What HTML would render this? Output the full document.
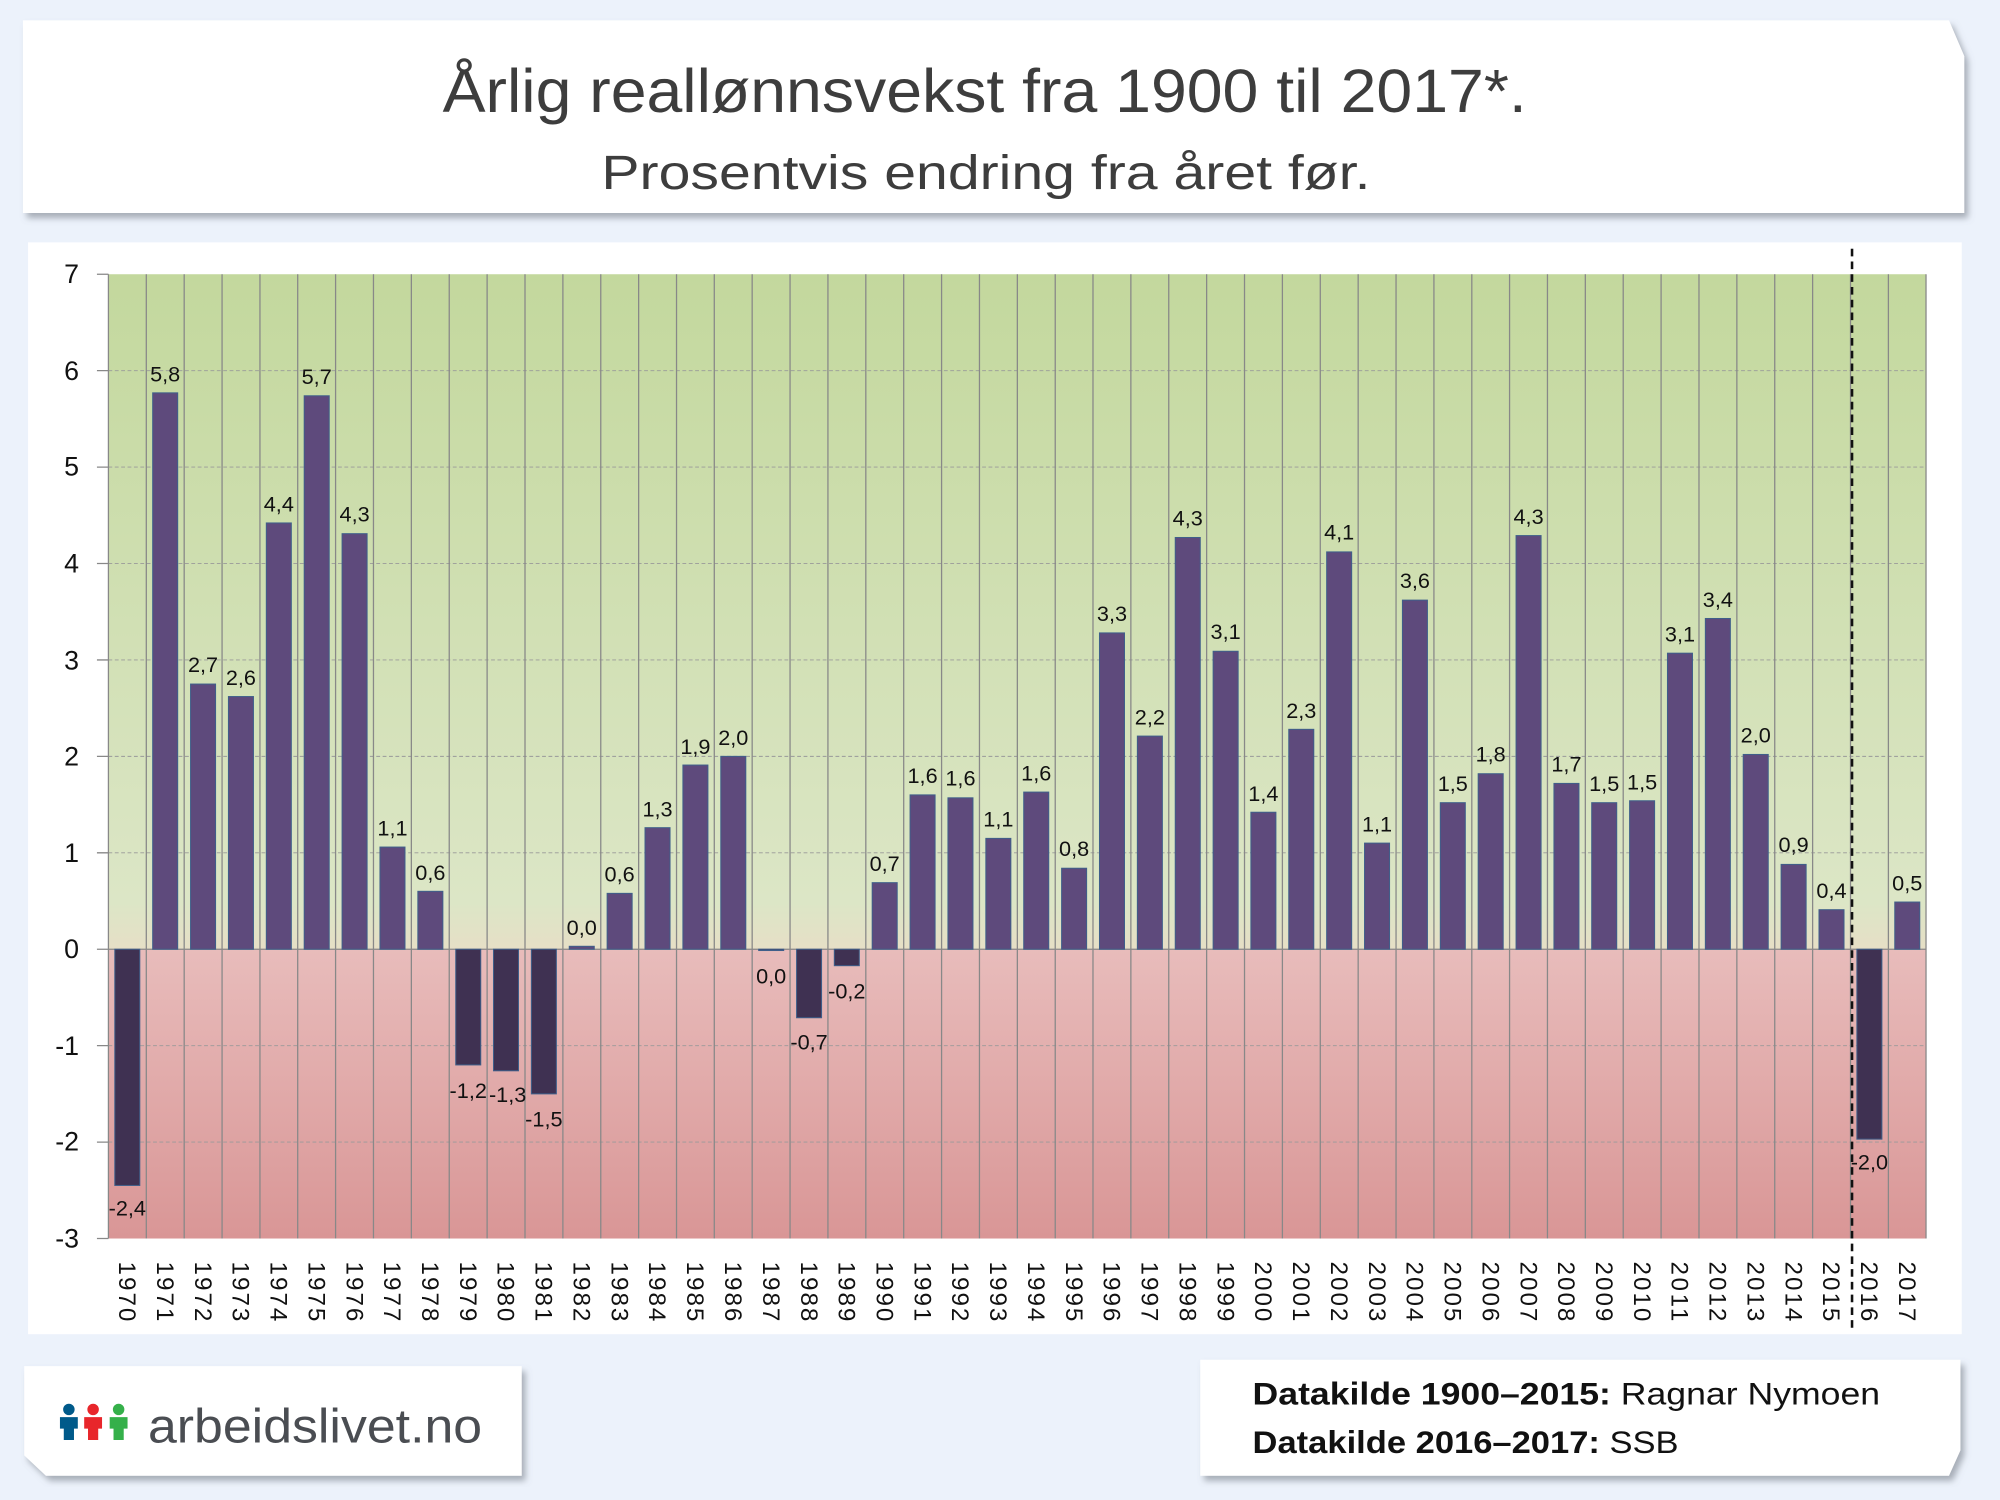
<!DOCTYPE html>
<html><head><meta charset="utf-8"><style>
html,body{margin:0;padding:0;background:#ecf2fb;}
svg{display:block;}
text{font-family:"Liberation Sans",sans-serif;}
</style></head><body>
<svg width="2000" height="1500" viewBox="0 0 1568 1176" xmlns="http://www.w3.org/2000/svg">
<defs>
<linearGradient id="gpos" x1="0" y1="0" x2="0" y2="1">
<stop offset="0" stop-color="#c3d89d"/><stop offset="0.93" stop-color="#dce6c6"/><stop offset="1" stop-color="#e6dfc6"/></linearGradient>
<linearGradient id="gneg" x1="0" y1="0" x2="0" y2="1">
<stop offset="0" stop-color="#e8bcbb"/><stop offset="1" stop-color="#d99696"/></linearGradient>
<filter id="sh" x="-5%" y="-5%" width="110%" height="115%"><feDropShadow dx="3" dy="4" stdDeviation="2.5" flood-color="#6e7480" flood-opacity="0.55"/></filter>
</defs>
<rect width="1568" height="1176" fill="#ecf2fb"/>
<path d="M18 16 H1528 L1540 44 V167 H18 Z" fill="#fff" filter="url(#sh)"/>
<text x="772" y="88" font-size="48" fill="#3d3d3d" text-anchor="middle" textLength="850" lengthAdjust="spacingAndGlyphs">Årlig reallønnsvekst fra 1900 til 2017*.</text>
<text x="773" y="148" font-size="38" fill="#3d3d3d" text-anchor="middle" textLength="603" lengthAdjust="spacingAndGlyphs">Prosentvis endring fra året før.</text>
<rect x="22" y="190" width="1516" height="856" fill="#fff"/>
<rect x="85" y="215" width="1425" height="529.2" fill="url(#gpos)"/>
<rect x="85" y="744.2" width="1425" height="226.8" fill="url(#gneg)"/>
<g stroke="#999" stroke-width="0.7" stroke-dasharray="3,2">
<line x1="85" x2="1510" y1="290.6" y2="290.6"/><line x1="85" x2="1510" y1="366.2" y2="366.2"/><line x1="85" x2="1510" y1="441.8" y2="441.8"/><line x1="85" x2="1510" y1="517.4" y2="517.4"/><line x1="85" x2="1510" y1="593" y2="593"/><line x1="85" x2="1510" y1="668.6" y2="668.6"/><line x1="85" x2="1510" y1="819.8" y2="819.8"/><line x1="85" x2="1510" y1="895.4" y2="895.4"/>
</g>
<g stroke="#888" stroke-width="1">
<path d="M85 215V971M114.7 215V971M144.4 215V971M174.1 215V971M203.8 215V971M233.4 215V971M263.1 215V971M292.8 215V971M322.5 215V971M352.2 215V971M381.9 215V971M411.6 215V971M441.3 215V971M471 215V971M500.7 215V971M530.4 215V971M560 215V971M589.7 215V971M619.4 215V971M649.1 215V971M678.8 215V971M708.5 215V971M738.2 215V971M767.9 215V971M797.6 215V971M827.3 215V971M856.9 215V971M886.6 215V971M916.3 215V971M946 215V971M975.7 215V971M1005.4 215V971M1035.1 215V971M1064.8 215V971M1094.5 215V971M1124.2 215V971M1153.9 215V971M1183.5 215V971M1213.2 215V971M1242.9 215V971M1272.6 215V971M1302.3 215V971M1332 215V971M1361.7 215V971M1391.4 215V971M1421.1 215V971M1450.8 215V971M1480.5 215V971M1510 215V971"/>
<path d="M85 744.2H1510"/>
<path d="M76 215H85M76 290.6H85M76 366.2H85M76 441.8H85M76 517.4H85M76 593H85M76 668.6H85M76 744.2H85M76 819.8H85M76 895.4H85M76 971H85"/>
</g>
<g font-size="21" fill="#111" text-anchor="end">
<text x="62" y="222">7</text><text x="62" y="298">6</text><text x="62" y="373">5</text><text x="62" y="449">4</text><text x="62" y="525">3</text><text x="62" y="600">2</text><text x="62" y="676">1</text><text x="62" y="751">0</text><text x="62" y="827">-1</text><text x="62" y="902">-2</text><text x="62" y="978">-3</text>
</g>
<g fill="#5e4a7c" stroke="#3f5f8a" stroke-width="0.8">
<rect x="119.7" y="308" width="19.6" height="436.2"/>
<rect x="149.4" y="536.3" width="19.6" height="207.9"/>
<rect x="179.1" y="546.1" width="19.6" height="198.1"/>
<rect x="208.8" y="410" width="19.6" height="334.2"/>
<rect x="238.5" y="310.3" width="19.6" height="433.9"/>
<rect x="268.2" y="418.4" width="19.6" height="325.8"/>
<rect x="297.9" y="664.1" width="19.6" height="80.1"/>
<rect x="327.6" y="698.8" width="19.6" height="45.4"/>
<rect x="446.3" y="741.9" width="19.6" height="2.3"/>
<rect x="476" y="700.4" width="19.6" height="43.8"/>
<rect x="505.7" y="648.9" width="19.6" height="95.3"/>
<rect x="535.4" y="599.8" width="19.6" height="144.4"/>
<rect x="565.1" y="593" width="19.6" height="151.2"/>
<rect x="683.8" y="692" width="19.6" height="52.2"/>
<rect x="713.5" y="623.2" width="19.6" height="121"/>
<rect x="743.2" y="625.5" width="19.6" height="118.7"/>
<rect x="772.9" y="657.3" width="19.6" height="86.9"/>
<rect x="802.6" y="621" width="19.6" height="123.2"/>
<rect x="832.3" y="680.7" width="19.6" height="63.5"/>
<rect x="862" y="496.2" width="19.6" height="248"/>
<rect x="891.7" y="577.1" width="19.6" height="167.1"/>
<rect x="921.4" y="421.4" width="19.6" height="322.8"/>
<rect x="951.1" y="510.6" width="19.6" height="233.6"/>
<rect x="980.7" y="636.8" width="19.6" height="107.4"/>
<rect x="1010.4" y="571.8" width="19.6" height="172.4"/>
<rect x="1040.1" y="432.7" width="19.6" height="311.5"/>
<rect x="1069.8" y="661" width="19.6" height="83.2"/>
<rect x="1099.5" y="470.5" width="19.6" height="273.7"/>
<rect x="1129.2" y="629.3" width="19.6" height="114.9"/>
<rect x="1158.9" y="606.6" width="19.6" height="137.6"/>
<rect x="1188.6" y="419.9" width="19.6" height="324.3"/>
<rect x="1218.3" y="614.2" width="19.6" height="130"/>
<rect x="1247.9" y="629.3" width="19.6" height="114.9"/>
<rect x="1277.6" y="627.8" width="19.6" height="116.4"/>
<rect x="1307.3" y="512.1" width="19.6" height="232.1"/>
<rect x="1337" y="484.9" width="19.6" height="259.3"/>
<rect x="1366.7" y="591.5" width="19.6" height="152.7"/>
<rect x="1396.4" y="677.7" width="19.6" height="66.5"/>
<rect x="1426.1" y="713.2" width="19.6" height="31"/>
<rect x="1485.5" y="707.2" width="19.6" height="37"/>
</g>
<g fill="#3f3152" stroke="#3f5f8a" stroke-width="0.8">
<rect x="90" y="744.2" width="19.6" height="185.2"/>
<rect x="357.3" y="744.2" width="19.6" height="90.7"/>
<rect x="386.9" y="744.2" width="19.6" height="95.3"/>
<rect x="416.6" y="744.2" width="19.6" height="113.4"/>
<rect x="594.8" y="744.2" width="19.6" height="1"/>
<rect x="624.5" y="744.2" width="19.6" height="53.7"/>
<rect x="654.1" y="744.2" width="19.6" height="12.9"/>
<rect x="1455.8" y="744.2" width="19.6" height="148.9"/>
</g>
<line x1="1452" y1="195" x2="1452" y2="1045" stroke="#111" stroke-width="2" stroke-dasharray="6,4"/>
<g font-size="17" fill="#111" text-anchor="middle">
<text x="129.5" y="299">5,8</text><text x="159.2" y="527">2,7</text><text x="188.9" y="537">2,6</text><text x="218.6" y="401">4,4</text><text x="248.3" y="301">5,7</text><text x="278" y="409">4,3</text><text x="307.7" y="655">1,1</text><text x="337.4" y="690">0,6</text><text x="456.1" y="733">0,0</text><text x="485.8" y="691">0,6</text><text x="515.5" y="640">1,3</text><text x="545.2" y="591">1,9</text><text x="574.9" y="584">2,0</text><text x="693.6" y="683">0,7</text><text x="723.3" y="614">1,6</text><text x="753" y="616">1,6</text><text x="782.7" y="648">1,1</text><text x="812.4" y="612">1,6</text><text x="842.1" y="671">0,8</text><text x="871.8" y="487">3,3</text><text x="901.5" y="568">2,2</text><text x="931.2" y="412">4,3</text><text x="960.9" y="501">3,1</text><text x="990.5" y="628">1,4</text><text x="1020.2" y="563">2,3</text><text x="1049.9" y="423">4,1</text><text x="1079.6" y="652">1,1</text><text x="1109.3" y="461">3,6</text><text x="1139" y="620">1,5</text><text x="1168.7" y="597">1,8</text><text x="1198.4" y="411">4,3</text><text x="1228.1" y="605">1,7</text><text x="1257.7" y="620">1,5</text><text x="1287.4" y="619">1,5</text><text x="1317.1" y="503">3,1</text><text x="1346.8" y="476">3,4</text><text x="1376.5" y="582">2,0</text><text x="1406.2" y="668">0,9</text><text x="1435.9" y="704">0,4</text><text x="1495.3" y="698">0,5</text>
<text x="99.8" y="953">-2,4</text><text x="367.1" y="861">-1,2</text><text x="398" y="864">-1,3</text><text x="426.4" y="883">-1,5</text><text x="604.6" y="771">0,0</text><text x="634.3" y="823">-0,7</text><text x="663.9" y="783">-0,2</text><text x="1465.6" y="917">-2,0</text>
</g>
<g font-size="19" fill="#111" textLength="47" lengthAdjust="spacingAndGlyphs">
<text textLength="47" transform="translate(93.3,989) rotate(90)">1970</text><text textLength="47" transform="translate(123,989) rotate(90)">1971</text><text textLength="47" transform="translate(152.7,989) rotate(90)">1972</text><text textLength="47" transform="translate(182.4,989) rotate(90)">1973</text><text textLength="47" transform="translate(212.1,989) rotate(90)">1974</text><text textLength="47" transform="translate(241.8,989) rotate(90)">1975</text><text textLength="47" transform="translate(271.5,989) rotate(90)">1976</text><text textLength="47" transform="translate(301.2,989) rotate(90)">1977</text><text textLength="47" transform="translate(330.9,989) rotate(90)">1978</text><text textLength="47" transform="translate(360.6,989) rotate(90)">1979</text><text textLength="47" transform="translate(390.2,989) rotate(90)">1980</text><text textLength="47" transform="translate(419.9,989) rotate(90)">1981</text><text textLength="47" transform="translate(449.6,989) rotate(90)">1982</text><text textLength="47" transform="translate(479.3,989) rotate(90)">1983</text><text textLength="47" transform="translate(509,989) rotate(90)">1984</text><text textLength="47" transform="translate(538.7,989) rotate(90)">1985</text><text textLength="47" transform="translate(568.4,989) rotate(90)">1986</text><text textLength="47" transform="translate(598.1,989) rotate(90)">1987</text><text textLength="47" transform="translate(627.8,989) rotate(90)">1988</text><text textLength="47" transform="translate(657.4,989) rotate(90)">1989</text><text textLength="47" transform="translate(687.1,989) rotate(90)">1990</text><text textLength="47" transform="translate(716.8,989) rotate(90)">1991</text><text textLength="47" transform="translate(746.5,989) rotate(90)">1992</text><text textLength="47" transform="translate(776.2,989) rotate(90)">1993</text><text textLength="47" transform="translate(805.9,989) rotate(90)">1994</text><text textLength="47" transform="translate(835.6,989) rotate(90)">1995</text><text textLength="47" transform="translate(865.3,989) rotate(90)">1996</text><text textLength="47" transform="translate(895,989) rotate(90)">1997</text><text textLength="47" transform="translate(924.7,989) rotate(90)">1998</text><text textLength="47" transform="translate(954.4,989) rotate(90)">1999</text><text textLength="47" transform="translate(984,989) rotate(90)">2000</text><text textLength="47" transform="translate(1013.7,989) rotate(90)">2001</text><text textLength="47" transform="translate(1043.4,989) rotate(90)">2002</text><text textLength="47" transform="translate(1073.1,989) rotate(90)">2003</text><text textLength="47" transform="translate(1102.8,989) rotate(90)">2004</text><text textLength="47" transform="translate(1132.5,989) rotate(90)">2005</text><text textLength="47" transform="translate(1162.2,989) rotate(90)">2006</text><text textLength="47" transform="translate(1191.9,989) rotate(90)">2007</text><text textLength="47" transform="translate(1221.6,989) rotate(90)">2008</text><text textLength="47" transform="translate(1251.2,989) rotate(90)">2009</text><text textLength="47" transform="translate(1280.9,989) rotate(90)">2010</text><text textLength="47" transform="translate(1310.6,989) rotate(90)">2011</text><text textLength="47" transform="translate(1340.3,989) rotate(90)">2012</text><text textLength="47" transform="translate(1370,989) rotate(90)">2013</text><text textLength="47" transform="translate(1399.7,989) rotate(90)">2014</text><text textLength="47" transform="translate(1429.4,989) rotate(90)">2015</text><text textLength="47" transform="translate(1459.1,989) rotate(90)">2016</text><text textLength="47" transform="translate(1488.8,989) rotate(90)">2017</text>
</g>
<path d="M19 1071 H409 V1157 H36 L19 1141 Z" fill="#fff" filter="url(#sh)"/>
<g>
<circle cx="54" cy="1105" r="4.5" fill="#005a8a"/><path d="M47 1111h14v9h-3v9h-8v-9h-3z" fill="#005a8a"/>
<circle cx="73" cy="1105" r="4.5" fill="#e8262b"/><path d="M66 1111h14v9h-3v9h-8v-9h-3z" fill="#e8262b"/>
<circle cx="93" cy="1105" r="4.5" fill="#35b04a"/><path d="M86 1111h14v9h-3v9h-8v-9h-3z" fill="#35b04a"/>
</g>
<text x="116" y="1131" font-size="38" fill="#4a4d52" textLength="262" lengthAdjust="spacingAndGlyphs">arbeidslivet.no</text>
<path d="M941 1066 H1537 V1137 L1528 1157 H941 Z" fill="#fff" filter="url(#sh)"/>
<text x="982" y="1101" font-size="25" fill="#111" textLength="492" lengthAdjust="spacingAndGlyphs"><tspan font-weight="bold">Datakilde 1900–2015:</tspan> Ragnar Nymoen</text>
<text x="982" y="1139" font-size="25" fill="#111" textLength="334" lengthAdjust="spacingAndGlyphs"><tspan font-weight="bold">Datakilde 2016–2017:</tspan> SSB</text>
</svg>
</body></html>
